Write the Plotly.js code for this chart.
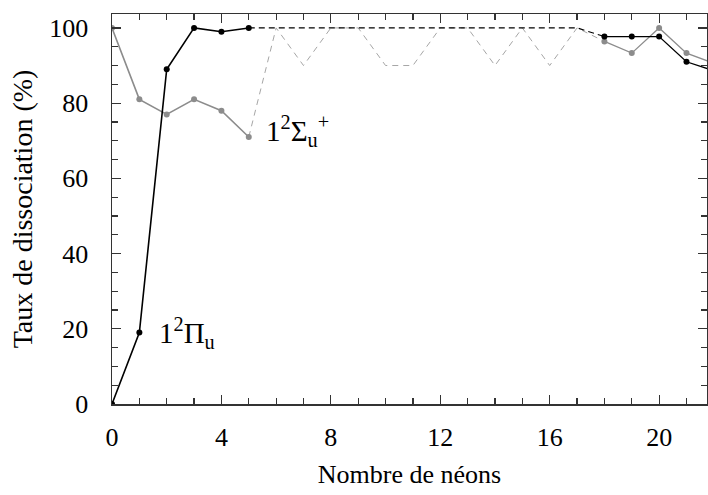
<!DOCTYPE html>
<html><head><meta charset="utf-8">
<script src="https://cdn.plot.ly/plotly-3.0.1.min.js"></script>
<style>html,body{margin:0;padding:0;background:#fff}</style>
</head><body><div id="chart" style="width:708px;height:495px"></div>
<script>
// 1²Πu (black)
const piX = [0, 1, 2, 3, 4, 5];
const piY = [0, 19, 89, 100, 99, 100];
const piDashX = [5, 17, 18];
const piDashY = [100, 100, 97.7];
const piX2 = [18, 19, 20, 21, 22];
const piY2 = [97.7, 97.7, 97.7, 91, 88.6];
// 1²Σu+ (grey)
const sigX = [0, 1, 2, 3, 4, 5];
const sigY = [100, 81, 77, 81, 78, 71];
const sigDashX = [5, 6, 7, 8, 9, 10, 11, 12, 13, 14, 15, 16, 17, 18];
const sigDashY = [71, 100, 90, 100, 100, 90, 90, 100, 100, 90, 100, 90, 100, 96.4];
const sigX2 = [18, 19, 20, 21, 22];
const sigY2 = [96.4, 93.3, 100, 93.3, 90.6];
const xTicks = [0, 4, 8, 12, 16, 20];
const yTicks = [0, 20, 40, 60, 80, 100];

const black = '#000000', grey = '#8c8c8c', lightGrey = '#a6a6a6';
const traces = [
  {x: sigDashX, y: sigDashY, mode: 'lines', line: {color: lightGrey, width: 1, dash: '6px,5px'}},
  {x: piDashX, y: piDashY, mode: 'lines', line: {color: black, width: 1.2, dash: '6px,4px'}},
  {x: sigX, y: sigY, mode: 'lines+markers', line: {color: grey, width: 1.6}, marker: {color: grey, size: 6}},
  {x: sigX2, y: sigY2, mode: 'lines+markers', line: {color: grey, width: 1.3}, marker: {color: grey, size: 6}},
  {x: piX, y: piY, mode: 'lines+markers', line: {color: black, width: 1.6}, marker: {color: black, size: 6}},
  {x: piX2, y: piY2, mode: 'lines+markers', line: {color: black, width: 1.3}, marker: {color: black, size: 6}}
];
const fam = 'Liberation Serif';
const font = {family: fam, size: 26, color: '#000'};
const layout = {
  width: 708, height: 495,
  margin: {l: 112, r: 1, t: 14, b: 91},
  showlegend: false,
  paper_bgcolor: '#fff', plot_bgcolor: '#fff',
  font: font,
  xaxis: {
    range: [0, 21.75], tickvals: xTicks, ticktext: xTicks.map(String),
    tickfont: {family: fam, size: 26, color: '#000'},
    ticks: 'inside', ticklen: 9, tickwidth: 1.2, tickcolor: '#333',
    minor: {dtick: 1, tick0: 0, ticks: 'inside', ticklen: 6, tickwidth: 1.2, tickcolor: '#333'},
    showline: true, linecolor: '#333', linewidth: 1.5, mirror: 'allticks',
    showgrid: false, zeroline: false, ticklabelstandoff: 9,
    title: {text: 'Nombre de néons', font: {family: fam, size: 26, color: '#000'}, standoff: 14}
  },
  yaxis: {
    range: [0, 103.7], tickvals: yTicks, ticktext: yTicks.map(String),
    tickfont: {family: fam, size: 26, color: '#000'},
    ticks: 'inside', ticklen: 9, tickwidth: 1.2, tickcolor: '#333',
    minor: {dtick: 5, tick0: 0, ticks: 'inside', ticklen: 6, tickwidth: 1.2, tickcolor: '#333'},
    showline: true, linecolor: '#333', linewidth: 1.5, mirror: 'allticks',
    showgrid: false, zeroline: false, ticklabelstandoff: 17,
    title: {text: 'Taux de dissociation (%)', font: {family: fam, size: 28, color: '#000'}, standoff: 8}
  },
  annotations: [
    {x: 1.65, y: 19, xref: 'x', yref: 'y', text: '1<sup>2</sup>Π<sub>u</sub>', showarrow: false, xanchor: 'left', font: {family: fam, size: 29, color: '#000'}},
    {x: 5.55, y: 72.5, xref: 'x', yref: 'y', text: '1<sup>2</sup>Σ<sub>u</sub><sup>+</sup>', showarrow: false, xanchor: 'left', font: {family: fam, size: 29, color: '#000'}}
  ]
};
Plotly.newPlot('chart', traces, layout, {displayModeBar: false, staticPlot: true});
</script></body></html>
